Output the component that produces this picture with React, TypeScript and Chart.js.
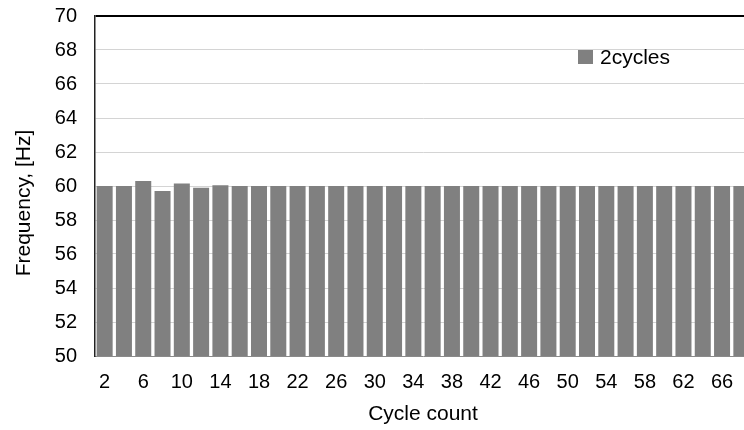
import React, { useEffect, useRef } from "react";
import { Chart, registerables } from "chart.js";

Chart.register(...registerables);

const cycleCounts: string[] = [
  "2", "4", "6", "8", "10", "12", "14", "16", "18", "20", "22", "24", "26", "28", "30", "32", "34",
  "36", "38", "40", "42", "44", "46", "48", "50", "52", "54", "56", "58", "60", "62", "64", "66", "68",
];
const frequency2cycles: number[] = [
  60.0, 60.0, 60.3, 59.7, 60.15, 59.9, 60.05, 60.0, 60.0, 60.0, 60.0, 60.0, 60.0, 60.0, 60.0, 60.0, 60.0,
  60.0, 60.0, 60.0, 60.0, 60.0, 60.0, 60.0, 60.0, 60.0, 60.0, 60.0, 60.0, 60.0, 60.0, 60.0, 60.0, 60.0,
];
const seriesName = "2cycles";
const yTitle = "Frequency, [Hz]";
const xTitle = "Cycle count";
const yMin = 50;
const yMax = 70;
const yStep = 2;

const FONT = "'Liberation Sans', Arial, sans-serif";
const BAR_COLOR = "#808080";

const overlayPlugin = {
  id: "overlayText",
  afterDraw(chart: any) {
    const ctx = chart.ctx;
    ctx.save();
    // legend inside plot
    ctx.fillStyle = BAR_COLOR;
    ctx.fillRect(578, 50, 15, 14);
    ctx.fillStyle = "#000";
    ctx.font = `21px ${FONT}`;
    ctx.textBaseline = "middle";
    ctx.textAlign = "left";
    ctx.fillText(seriesName, 600, 58);
    // y-axis title
    ctx.translate(24, 203);
    ctx.rotate(-Math.PI / 2);
    ctx.textAlign = "center";
    ctx.font = `21px ${FONT}`;
    ctx.fillText(yTitle, 0, 0);
    ctx.restore();
  },
};

export default function App() {
  const ref = useRef<HTMLCanvasElement | null>(null);

  useEffect(() => {
    document.body.style.margin = "0";
    const canvas = ref.current;
    if (!canvas) return;
    const chart = new Chart(canvas, {
      type: "bar",
      data: {
        labels: cycleCounts,
        datasets: [
          {
            label: seriesName,
            data: frequency2cycles,
            backgroundColor: BAR_COLOR,
            borderWidth: 0,
            barPercentage: 0.83,
            categoryPercentage: 1,
          },
        ],
      },
      options: {
        responsive: false,
        animation: false,
        devicePixelRatio: 1,
        layout: { padding: { top: 16, right: 19, left: 0, bottom: 0 } },
        plugins: {
          legend: { display: false },
          tooltip: { enabled: false },
        },
        scales: {
          x: {
            offset: true,
            grid: { display: false, drawTicks: false },
            border: { display: true, color: "#8a8a8a", width: 1 },
            ticks: {
              autoSkip: false,
              maxRotation: 0,
              padding: 14,
              color: "#000",
              font: { family: FONT, size: 20 },
              callback: (_v: any, i: number) => (i % 2 === 0 ? cycleCounts[i] : ""),
            },
            title: {
              display: true,
              text: xTitle,
              color: "#000",
              font: { family: FONT, size: 21 },
              padding: { top: 8, bottom: 3 },
            },
            afterFit: (scale: any) => {
              scale.height = 74;
              scale.paddingLeft = 0;
              scale.paddingRight = 0;
            },
          },
          y: {
            min: yMin,
            max: yMax,
            grid: {
              drawTicks: false,
              color: (c: any) => (c.tick && c.tick.value === yMax ? "#000" : c.tick && c.tick.value === yMin ? "rgba(0,0,0,0)" : "#d4d4d4"),
              lineWidth: (c: any) => (c.tick && c.tick.value === yMax ? 2 : 1),
            },
            border: { display: true, color: "#222", width: 1.5 },
            ticks: {
              stepSize: yStep,
              padding: 18,
              color: "#000",
              font: { family: FONT, size: 20 },
            },
            title: { display: false },
            afterFit: (scale: any) => {
              scale.width = 95;
              scale.paddingTop = 0;
              scale.paddingBottom = 0;
            },
          },
        },
      },
      plugins: [overlayPlugin],
    });
    return () => chart.destroy();
  }, []);

  return (
    <div style={{ width: 744, height: 430, overflow: "hidden", position: "relative" }}>
      <canvas ref={ref} width={770} height={430} style={{ width: 770, height: 430, display: "block" }} />
    </div>
  );
}
